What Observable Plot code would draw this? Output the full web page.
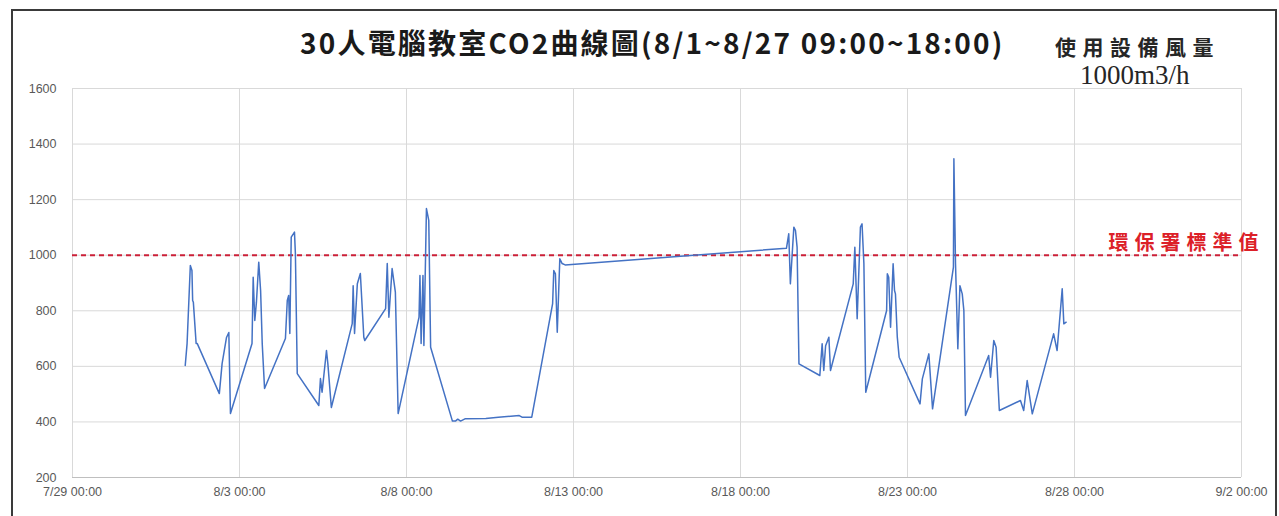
<!DOCTYPE html>
<html>
<head>
<meta charset="utf-8">
<script src="https://cdn.jsdelivr.net/npm/d3@7"></script>
<script src="https://cdn.jsdelivr.net/npm/@observablehq/plot@0.6"></script>
<style>
  html, body { margin: 0; padding: 0; background: #fff; overflow: hidden; }
  #wrap { position: relative; width: 1279px; height: 516px; overflow: hidden; background: #fff; }
  #frame { position: absolute; left: 11px; top: 9px; width: 1266px; height: 540px; border: 2px solid #3a3a3a; box-sizing: border-box; pointer-events: none; }
  #header { position: relative; height: 78px; }
  #title { position: absolute; left: 300px; top: 28px; font-family: "Noto Sans CJK TC", serif; font-weight: bold; font-size: 28px; letter-spacing: 2.2px; color: #1a1a1a; white-space: nowrap; line-height: 1; }
  #sub1 { position: absolute; left: 1055px; top: 36px; font-family: "Noto Sans CJK TC", serif; font-weight: bold; font-size: 21px; letter-spacing: 6.5px; color: #262626; white-space: nowrap; line-height: 1; }
  #sub2 { position: absolute; left: 1080px; top: 62px; font-family: "Liberation Serif", serif; font-size: 27px; color: #262626; white-space: nowrap; line-height: 1; }
  #chart svg { display: block; }
  #chart svg text.std-label { letter-spacing: 6px; }
</style>
</head>
<body>
<div id="wrap">
  <div id="header">
    <div id="title"></div>
    <div id="sub1"></div>
    <div id="sub2"></div>
  </div>
  <div id="chart"></div>
  <div id="frame"></div>
</div>
<script>
// ---- data ----
const titleText = "30人電腦教室CO2曲線圖(8/1~8/27 09:00~18:00)";
const subtitleLines = ["使用設備風量", "1000m3/h"];
const thresholdValue = 1000;
const thresholdLabel = "環保署標準值";
const thresholdLabelTime = "2020-08-29 00:30";

const times = [
  // 8/1
  "2020-08-01 09:00","2020-08-01 10:20","2020-08-01 12:40","2020-08-01 13:50","2020-08-01 14:20","2020-08-01 14:50","2020-08-01 16:50","2020-08-01 17:40",
  // 8/2
  "2020-08-02 09:30","2020-08-02 11:30","2020-08-02 14:40","2020-08-02 16:20","2020-08-02 17:30",
  // 8/3
  "2020-08-03 09:00","2020-08-03 09:50","2020-08-03 11:00","2020-08-03 12:10","2020-08-03 13:50","2020-08-03 15:10","2020-08-03 16:20","2020-08-03 18:00",
  // 8/4
  "2020-08-04 09:00","2020-08-04 10:20","2020-08-04 11:20","2020-08-04 12:10","2020-08-04 13:10","2020-08-04 15:30","2020-08-04 16:10","2020-08-04 17:30",
  // 8/5
  "2020-08-05 09:00","2020-08-05 10:10","2020-08-05 11:20","2020-08-05 14:30","2020-08-05 15:30","2020-08-05 18:00",
  // 8/6
  "2020-08-06 09:00","2020-08-06 09:40","2020-08-06 10:40","2020-08-06 12:40","2020-08-06 14:50","2020-08-06 17:20","2020-08-06 18:00",
  // 8/7
  "2020-08-07 09:00","2020-08-07 10:10","2020-08-07 11:20","2020-08-07 13:40","2020-08-07 16:00","2020-08-07 18:00",
  // 8/8
  "2020-08-08 09:00","2020-08-08 09:40","2020-08-08 10:30","2020-08-08 11:50","2020-08-08 12:30","2020-08-08 14:20","2020-08-08 16:00","2020-08-08 17:20",
  // 8/9
  "2020-08-09 09:00","2020-08-09 11:10","2020-08-09 12:50","2020-08-09 14:50","2020-08-09 18:00",
  // 8/10
  "2020-08-10 09:00","2020-08-10 18:00",
  // 8/11
  "2020-08-11 09:00","2020-08-11 11:00","2020-08-11 18:00",
  // 8/12
  "2020-08-12 09:00","2020-08-12 09:50","2020-08-12 11:00","2020-08-12 12:20","2020-08-12 14:10","2020-08-12 15:50","2020-08-12 18:00",
  // 8/19
  "2020-08-19 09:00","2020-08-19 10:40","2020-08-19 11:50","2020-08-19 14:20","2020-08-19 15:30","2020-08-19 16:40","2020-08-19 18:00",
  // 8/20
  "2020-08-20 09:00","2020-08-20 10:40","2020-08-20 11:50","2020-08-20 13:10","2020-08-20 15:30","2020-08-20 16:40",
  // 8/21
  "2020-08-21 09:00","2020-08-21 10:10","2020-08-21 11:50","2020-08-21 14:10","2020-08-21 15:20","2020-08-21 16:40","2020-08-21 18:00",
  // 8/22
  "2020-08-22 09:00","2020-08-22 09:30","2020-08-22 10:30","2020-08-22 11:50","2020-08-22 13:40","2020-08-22 14:40","2020-08-22 15:20","2020-08-22 16:40","2020-08-22 18:00",
  // 8/23
  "2020-08-23 09:00","2020-08-23 10:40","2020-08-23 15:20","2020-08-23 18:00",
  // 8/24
  "2020-08-24 09:00","2020-08-24 09:20","2020-08-24 10:30","2020-08-24 12:10","2020-08-24 13:40","2020-08-24 15:20","2020-08-24 16:30","2020-08-24 17:40",
  // 8/25
  "2020-08-25 10:20","2020-08-25 11:40","2020-08-25 14:00","2020-08-25 15:40","2020-08-25 18:00",
  // 8/26
  "2020-08-26 09:10","2020-08-26 11:30","2020-08-26 14:00","2020-08-26 17:40",
  // 8/27
  "2020-08-27 09:00","2020-08-27 11:30","2020-08-27 15:10","2020-08-27 16:20","2020-08-27 18:00"
];

const co2 = [
  603, 682, 963, 945, 837, 831, 682, 682,
  502, 610, 704, 722, 430,
  682, 921, 765, 831, 975, 873, 681, 520,
  700, 837, 855, 718, 1065, 1083, 1005, 574,
  459, 556, 507, 657, 609, 452,
  754, 890, 718, 897, 934, 705, 693,
  808, 970, 777, 952, 867, 430,
  777, 927, 682, 927, 675, 1168, 1125, 669,
  403, 403, 410, 403, 411,
  412, 417,
  423, 417, 417,
  826, 945, 933, 723, 987, 970, 965,
  1025, 1077, 897, 1101, 1089, 1029, 609,
  567, 681, 585, 674, 705, 585,
  897, 1029, 771, 1101, 1113, 969, 507,
  801, 933, 921, 741, 969, 873, 861, 705, 633,
  465, 555, 645, 447,
  957, 1347, 969, 663, 890, 861, 801, 423,
  639, 561, 693, 669, 441,
  477, 441, 549, 429,
  717, 657, 879, 753, 759
];

const xDomain = ["2020-07-29 00:00", "2020-09-02 00:00"];
const xTickLabels = ["2020-07-29 00:00","2020-08-03 00:00","2020-08-08 00:00","2020-08-13 00:00","2020-08-18 00:00","2020-08-23 00:00","2020-08-28 00:00","2020-09-02 00:00"];
const yDomain = [200, 1600];
const yTicks = [200, 400, 600, 800, 1000, 1200, 1400, 1600];

// ---- build ----
const parse = d3.utcParse("%Y-%m-%d %H:%M");
const data = times.map((t, i) => ({time: parse(t), co2: co2[i]}));
const xTicks = xTickLabels.map(parse);

document.getElementById("title").textContent = titleText;
document.getElementById("sub1").textContent = subtitleLines[0];
document.getElementById("sub2").textContent = subtitleLines[1];

const tickFont = "Liberation Sans, Arial, sans-serif";

const chart = Plot.plot({
  width: 1279,
  height: 438,
  marginLeft: 72,
  marginRight: 38,
  marginTop: 10,
  marginBottom: 39,
  style: {background: "transparent", overflow: "visible"},
  x: {type: "utc", domain: xDomain.map(parse), label: null},
  y: {domain: yDomain, label: null},
  marks: [
    Plot.gridY(yTicks, {stroke: "#d9d9d9", strokeOpacity: 1, strokeWidth: 1}),
    Plot.gridX(xTicks, {stroke: "#d9d9d9", strokeOpacity: 1, strokeWidth: 1}),
    Plot.ruleY([yDomain[0]], {stroke: "#bfbfbf", strokeWidth: 1.2}),
    Plot.axisY(yTicks, {tickSize: 0, tickPadding: 16, fontSize: 12.5, fill: "#595959", fontFamily: tickFont, tickFormat: d3.format("d"), label: null}),
    Plot.axisX(xTicks, {tickSize: 0, tickPadding: 10, fontSize: 12.5, fill: "#595959", fontFamily: tickFont, tickFormat: d3.utcFormat("%-m/%-d %H:%M"), label: null}),
    Plot.ruleY([thresholdValue], {stroke: "#cc2038", strokeWidth: 2, strokeDasharray: "5,4"}),
    Plot.line(data, {x: "time", y: "co2", stroke: "#4472c4", strokeWidth: 1.5}),
    Plot.text([{t: parse(thresholdLabelTime), v: thresholdValue, s: thresholdLabel}], {
      x: "t", y: "v", text: "s", textAnchor: "start", dy: -12,
      fill: "#dc2028", fontSize: 20, fontWeight: "bold",
      fontFamily: "Noto Sans CJK TC"
    })
  ]
});
chart.querySelectorAll("text").forEach(t => {
  if (t.textContent === thresholdLabel) t.classList.add("std-label");
});
document.getElementById("chart").appendChild(chart);
</script>
</body>
</html>
